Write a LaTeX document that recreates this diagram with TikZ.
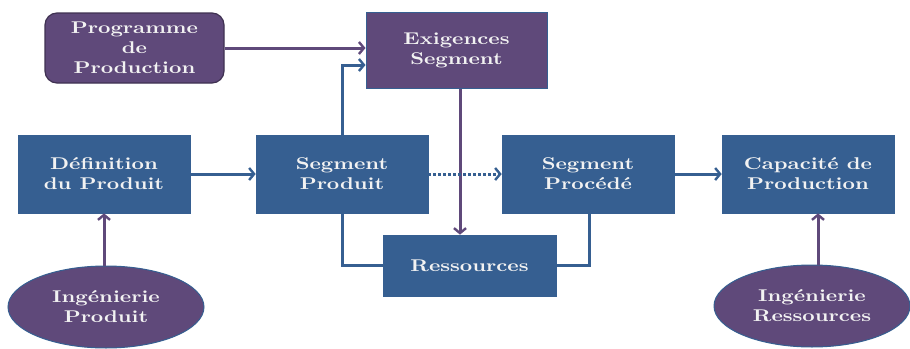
\documentclass[tikz,border=0pt]{standalone}
\usepackage{fontspec}
\newfontfamily\boxfont{lmroman10-bold.otf}[FakeStretch=1.27]
\usetikzlibrary{arrows.meta,shapes.geometric}
\definecolor{bxblue}{HTML}{365F91}
\definecolor{bxpurple}{HTML}{5F497A}
\definecolor{bxdpurple}{HTML}{3F3151}
\definecolor{txtwhite}{HTML}{F2F2F2}
\tikzset{
  lbl/.style={text=txtwhite,align=center,inner sep=0pt,
    font=\boxfont\fontsize{17}{20}\selectfont},
  bluebox/.style={lbl,rectangle,fill=bxblue,draw=bxblue,line width=0.6pt,
    minimum width=172pt,minimum height=78pt},
  purplebox/.style={lbl,rectangle,fill=bxpurple,draw=bxblue,line width=1pt},
  roundbox/.style={lbl,rectangle,rounded corners=12pt,fill=bxpurple,draw=bxdpurple,line width=1.2pt},
  ell/.style={lbl,ellipse,fill=bxpurple,draw=bxblue,line width=1pt,
    minimum width=196pt,minimum height=82pt},
  barrow/.style={draw=bxblue,line width=3pt,-{Straight Barb[length=5pt,width=12pt,line width=2.4pt]}},
  parrow/.style={draw=bxpurple,line width=3pt,-{Straight Barb[length=5pt,width=12pt,line width=2.4pt]}},
  bline/.style={draw=bxblue,line width=3pt},
}
\begin{document}
\begin{tikzpicture}[x=1pt,y=-1pt]
\useasboundingbox (0,0) rectangle (910,348);
\node[roundbox,minimum width=179pt,minimum height=70pt] (prog) at (134.5,48) {Programme\\de\\Production};
\node[purplebox,minimum width=181pt,minimum height=76pt] (ex) at (456.5,50) {Exigences\\Segment};
\node[bluebox] (def) at (104,174) {Définition\\du Produit};
\node[bluebox] (sp) at (342,174) {Segment\\Produit};
\node[bluebox] (spc) at (588,174) {Segment\\Procédé};
\node[bluebox] (cap) at (808,174) {Capacité de\\Production};
\node[bluebox,minimum width=173pt,minimum height=61pt] (res) at (469.5,265.5) {Ressources};
\node[ell] (ip) at (106,307) {Ingénierie\\Produit};
\node[ell] (ir) at (812,306) {Ingénierie\\Ressources};
% connectors
\draw[parrow] (prog.east) -- (prog.east -| ex.west);
\draw[barrow] (sp.north) |- ([yshift=-15pt]ex.west);
\draw[parrow] ([xshift=3.5pt]ex.south) -- ([xshift=3.5pt]ex.south |- res.north);
\draw[barrow] (def.east) -- (sp.west);
\draw[barrow,dotted] (sp.east) -- (spc.west);
\draw[barrow] (spc.east) -- (cap.west);
\draw[bline] (sp.south) |- (res.west);
\draw[bline] ([xshift=1pt]spc.south) |- (res.east);
\draw[parrow] (def.south |- ip.north) -- (def.south);
\draw[parrow] ([xshift=6pt]ir.north) -- ([xshift=6pt]ir.north |- cap.south);
\end{tikzpicture}
\end{document}
